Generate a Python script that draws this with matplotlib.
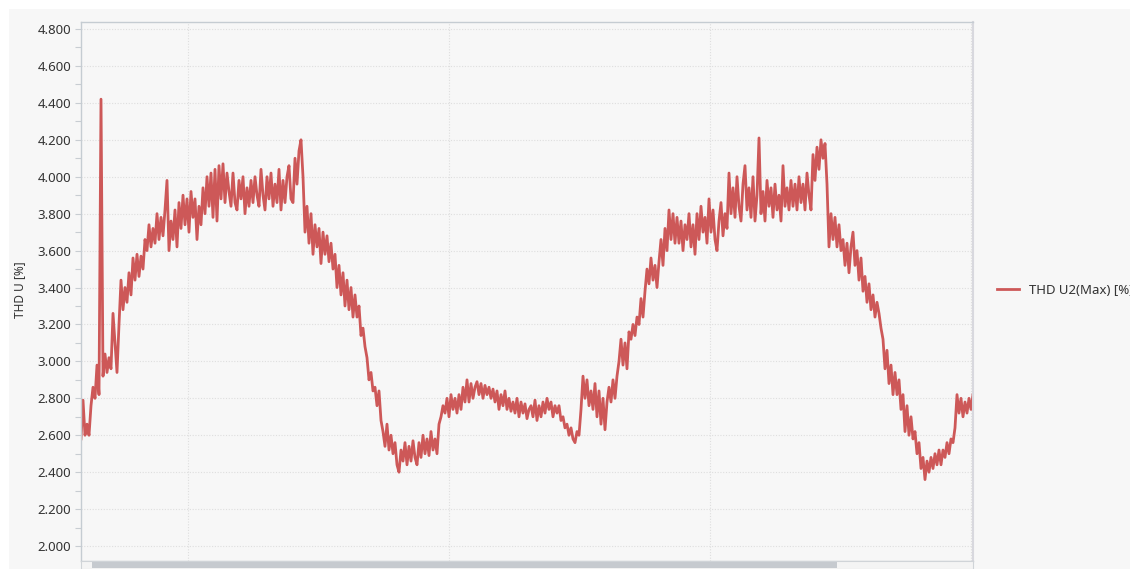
import numpy as np
import matplotlib
matplotlib.use("Agg")
from matplotlib import pyplot as plt
from matplotlib.patches import Rectangle

# THD U2 (Max) readings, one every ~2 px of the original trace
thd_u2_max = [
    # rise + spike
    2.58, 2.79, 2.60, 2.66, 2.60, 2.76, 2.86, 2.80, 2.98, 2.82,
    4.42, 2.92, 3.04, 2.94, 3.02, 2.96, 3.26, 3.10, 2.94, 3.20,
    3.44, 3.28, 3.40, 3.32, 3.48, 3.36, 3.56, 3.44, 3.58, 3.46,
    3.57, 3.50, 3.66, 3.60, 3.74, 3.62, 3.72, 3.64, 3.80, 3.66,
    3.78, 3.68, 3.82, 3.98, 3.60, 3.76, 3.66, 3.82, 3.62, 3.86,
    3.72, 3.90, 3.74, 3.88, 3.70, 3.92, 3.78, 3.88, 3.66, 3.84,
    3.74, 3.94, 3.80, 4.00, 3.84, 4.02, 3.78, 4.04, 3.76, 4.06,
    3.88, 4.07, 3.86, 4.02, 3.92,
    # first plateau + fall
    3.84, 4.02, 3.86, 3.82, 3.98, 3.88, 4.00, 3.80, 3.94, 3.84,
    3.98, 3.86, 4.00, 3.90, 3.84, 4.04, 3.90, 3.82, 4.00, 3.88,
    4.02, 3.84, 3.96, 3.86, 4.04, 3.82, 3.98, 3.86, 4.00, 4.06,
    3.88, 3.86, 4.10, 3.96, 4.14, 4.20, 4.00, 3.70, 3.84, 3.64,
    3.80, 3.58, 3.74, 3.62, 3.72, 3.53, 3.70, 3.58, 3.68, 3.54,
    3.64, 3.50, 3.58, 3.40, 3.52, 3.36, 3.48, 3.30, 3.44, 3.28,
    3.40, 3.24, 3.36, 3.24, 3.30, 3.14, 3.18, 3.08, 3.02, 2.90,
    2.94, 2.84, 2.86, 2.76,
    # first dip + hump
    2.84, 2.68, 2.62, 2.54, 2.66, 2.52, 2.60, 2.50, 2.56, 2.44,
    2.40, 2.52, 2.46, 2.56, 2.44, 2.54, 2.46, 2.57, 2.48, 2.44,
    2.56, 2.48, 2.60, 2.50, 2.58, 2.49, 2.62, 2.52, 2.58, 2.50,
    2.66, 2.70, 2.76, 2.72, 2.80, 2.70, 2.82, 2.74, 2.80, 2.72,
    2.82, 2.74, 2.86, 2.78, 2.90, 2.78, 2.88, 2.80, 2.86, 2.89,
    2.82, 2.88, 2.80, 2.87, 2.82, 2.86, 2.80, 2.85, 2.78, 2.84,
    2.74, 2.82, 2.76, 2.84, 2.74, 2.80, 2.73, 2.78, 2.72, 2.80,
    2.70, 2.78, 2.72, 2.77, 2.69, 2.74,
    # second rise
    2.76, 2.70, 2.79, 2.68, 2.76, 2.70, 2.78, 2.72, 2.80, 2.74,
    2.78, 2.70, 2.76, 2.72, 2.76, 2.68, 2.70, 2.64, 2.66, 2.60,
    2.64, 2.58, 2.56, 2.62, 2.60, 2.74, 2.92, 2.80, 2.90, 2.76,
    2.84, 2.74, 2.88, 2.70, 2.84, 2.66, 2.80, 2.63, 2.78, 2.86,
    2.78, 2.90, 2.80, 2.92, 3.00, 3.12, 2.98, 3.10, 2.96, 3.16,
    3.12, 3.20, 3.14, 3.24, 3.20, 3.34, 3.24, 3.38, 3.50, 3.42,
    3.56, 3.44, 3.52, 3.40, 3.54, 3.66, 3.52, 3.72, 3.60, 3.82,
    3.66, 3.80, 3.64, 3.78,
    # second plateau
    3.64, 3.76, 3.60, 3.74, 3.66, 3.80, 3.62, 3.74, 3.58, 3.80,
    3.66, 3.84, 3.70, 3.78, 3.64, 3.88, 3.70, 3.82, 3.66, 3.60,
    3.76, 3.86, 3.68, 3.80, 3.72, 4.02, 3.80, 3.94, 3.78, 4.00,
    3.84, 3.76, 3.96, 4.06, 3.82, 3.94, 3.78, 4.00, 3.76, 3.90,
    4.21, 3.80, 3.92, 3.76, 3.98, 3.84, 3.94, 3.78, 3.96, 3.82,
    3.90, 3.76, 4.06, 3.84, 3.94, 3.82, 3.98, 3.84, 3.96, 3.82,
    4.00, 3.86, 3.96, 3.82, 4.02, 3.90, 3.82, 4.12, 3.98, 4.16,
    4.04, 4.20, 4.10, 4.18, 3.96, 3.62,
    # second fall + dip
    3.80, 3.66, 3.78, 3.62, 3.74, 3.60, 3.66, 3.52, 3.64, 3.48,
    3.62, 3.70, 3.52, 3.60, 3.44, 3.56, 3.38, 3.46, 3.32, 3.42,
    3.28, 3.36, 3.24, 3.32, 3.26, 3.18, 3.12, 2.96, 3.06, 2.88,
    2.98, 2.82, 2.94, 2.82, 2.90, 2.74, 2.82, 2.62, 2.76, 2.60,
    2.70, 2.58, 2.62, 2.50, 2.56, 2.42, 2.48, 2.36, 2.46, 2.40,
    2.48, 2.42, 2.50, 2.44, 2.52, 2.44, 2.52, 2.48, 2.56, 2.50,
    2.58, 2.56, 2.64, 2.82, 2.72, 2.80, 2.70, 2.78, 2.72, 2.80,
    2.74, 2.82,
]
y_ticks = [2.0, 2.2, 2.4, 2.6, 2.8, 3.0, 3.2, 3.4, 3.6, 3.8, 4.0, 4.2, 4.4, 4.6, 4.8]
series_label = "THD U2(Max) [%]"
y_label = "THD U [%]"

W, H = 1130, 569
fig = plt.figure(figsize=(W / 100, H / 100), dpi=100, facecolor="white")
fig.patches.append(Rectangle((9 / W, 0), 1 - 9 / W, 1 - 9 / H, transform=fig.transFigure,
                             facecolor="#f7f7f7", edgecolor="none", zorder=-10))

ax = fig.add_axes([81 / W, 1 - 561 / H, (973 - 81) / W, (561 - 22) / H])
ax.set_zorder(1)
ax.set_facecolor("#f7f7f7")

n = len(thd_u2_max)
X = np.arange(n)
ax.plot(X, thd_u2_max, color="#cd5858", lw=2.0, label=series_label)

ax.set_xlim(0, n - 1)
ax.set_ylim(1.919, 4.838)
ax.set_yticks(y_ticks)
ax.set_yticklabels(["%.3f" % v for v in y_ticks])
ax.set_yticks(np.array(y_ticks[:-1]) + 0.1, minor=True)
# vertical guides (hidden time axis)
ax.set_xticks([(n - 1) * f for f in (0.12, 0.4125, 0.705, 0.9975)])
ax.set_xticklabels([])
ax.tick_params(axis="x", length=0)
ax.tick_params(axis="y", which="both", direction="out", length=4, width=0.8,
               color="#c8cdd2", labelsize=9.5, labelcolor="#333333", pad=3)
for lab in ax.get_yticklabels():
    lab.set_fontfamily("Noto Sans")

ax.grid(True, which="major", linestyle=(0, (1, 1.5)), color="#dedede", lw=0.8)
for side in ["left", "top", "bottom"]:
    ax.spines[side].set_color("#c5ccd2")
    ax.spines[side].set_linewidth(1.0)
ax.spines["right"].set_color("#d8d8de")
ax.spines["right"].set_linewidth(1.5)

fig.text(20 / W, 1 - 290 / H, y_label, rotation=90, ha="center", va="center",
         fontsize=8.5, color="#333333", family="Noto Sans")

# scrollbar under the plot
fig.patches.append(Rectangle((81 / W, 0), (973 - 81) / W, 8 / H, transform=fig.transFigure,
                             facecolor="#f4f4f4", edgecolor="#d0d4d8", lw=0.8, zorder=2))
fig.patches.append(Rectangle((92 / W, 1 / H), (837 - 92) / W, 6 / H, transform=fig.transFigure,
                             facecolor="#c6cacf", edgecolor="none", zorder=3))

leg = ax.legend(loc="center left", bbox_to_anchor=(985 / W, 1 - 290 / H),
                bbox_transform=fig.transFigure, frameon=False, handlelength=1.7,
                handletextpad=0.7, prop={"family": "Noto Sans", "size": 9.5})
for t in leg.get_texts():
    t.set_color("#333333")

plt.savefig("out.png", dpi=100, facecolor="white")
